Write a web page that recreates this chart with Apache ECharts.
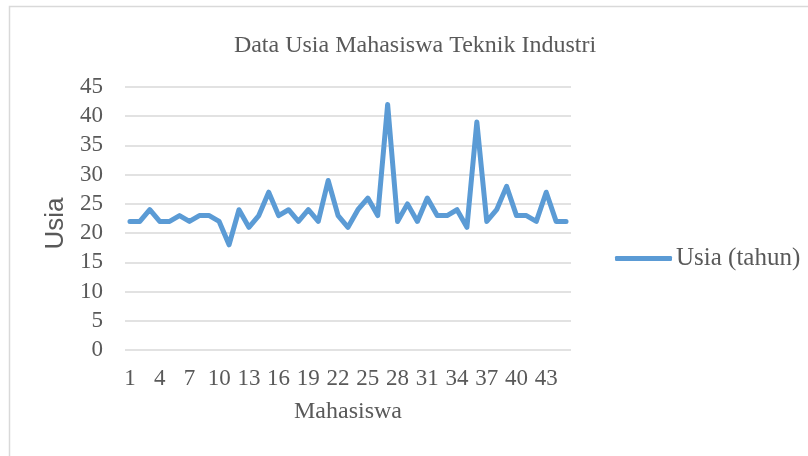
<!DOCTYPE html>
<html>
<head>
<meta charset="utf-8">
<script src="https://cdn.jsdelivr.net/npm/echarts@6/dist/echarts.min.js"></script>
<style>
  html, body { margin: 0; padding: 0; background: #fff; }
  #main { width: 808px; height: 456px; }
</style>
</head>
<body>
<div id="main"></div>
<script>
var chart = echarts.init(document.getElementById('main'));

// mahasiswa 1..45
var mahasiswa = [];
for (var i = 1; i <= 45; i++) mahasiswa.push(String(i));

var usia = [22, 22, 24, 22, 22, 23, 22, 23, 23, 22,
            18, 24, 21, 23, 27, 23, 24, 22, 24, 22,
            29, 23, 21, 24, 26, 23, 42, 22, 25, 22,
            26, 23, 23, 24, 21, 39, 22, 24, 28, 23,
            23, 22, 27, 22, 22];

var yTicks = { min: 0, max: 45, interval: 5 };

var grey = '#595959';
var serif = '"Liberation Serif", "Times New Roman", serif';

var option = {
    backgroundColor: '#fff',
    animation: false,
    graphic: [{
        type: 'rect',
        shape: { x: 9.5, y: 6.5, width: 830, height: 480 },
        style: { fill: 'none', stroke: '#d9d9d9', lineWidth: 1.5 },
        silent: true
    }],
    title: {
        text: 'Data Usia Mahasiswa Teknik Industri',
        left: 410,
        top: 29,
        textAlign: 'center',
        textStyle: { fontFamily: serif, fontSize: 24, fontWeight: 'normal', color: grey }
    },
    legend: {
        left: 615,
        top: 246,
        padding: 0,
        icon: 'roundRect',
        itemWidth: 57,
        itemHeight: 5,
        textStyle: { fontFamily: serif, fontSize: 25, color: grey, padding: [0, 0, 0, -1] },
        data: ['Usia (tahun)']
    },
    grid: { left: 125, right: 237, top: 87, bottom: 106 },
    xAxis: {
        type: 'category',
        data: mahasiswa,
        boundaryGap: true,
        name: 'Mahasiswa',
        nameLocation: 'middle',
        nameGap: 50,
        nameTextStyle: { fontFamily: serif, fontSize: 24, color: grey },
        axisLine: { show: false },
        axisTick: { show: false },
        axisLabel: { interval: 2, fontFamily: serif, fontSize: 23, color: grey, margin: 17 }
    },
    yAxis: {
        type: 'value',
        min: yTicks.min,
        max: yTicks.max,
        interval: yTicks.interval,
        name: 'Usia',
        nameLocation: 'middle',
        nameRotate: 90,
        nameGap: 55,
        nameTextStyle: { fontFamily: '"Liberation Sans", Arial, sans-serif', fontSize: 26, color: grey, padding: [0, 10, 0, 0] },
        axisLine: { show: false },
        axisTick: { show: false },
        axisLabel: { fontFamily: serif, fontSize: 23, color: grey, margin: 22 },
        splitLine: { lineStyle: { color: '#d9d9d9', width: 1.5 } }
    },
    series: [{
        name: 'Usia (tahun)',
        type: 'line',
        data: usia,
        symbol: 'none',
        lineStyle: { color: '#5b9bd5', width: 5, join: 'round', cap: 'round' },
        itemStyle: { color: '#5b9bd5' }
    }]
};
chart.setOption(option);
</script>
</body>
</html>
